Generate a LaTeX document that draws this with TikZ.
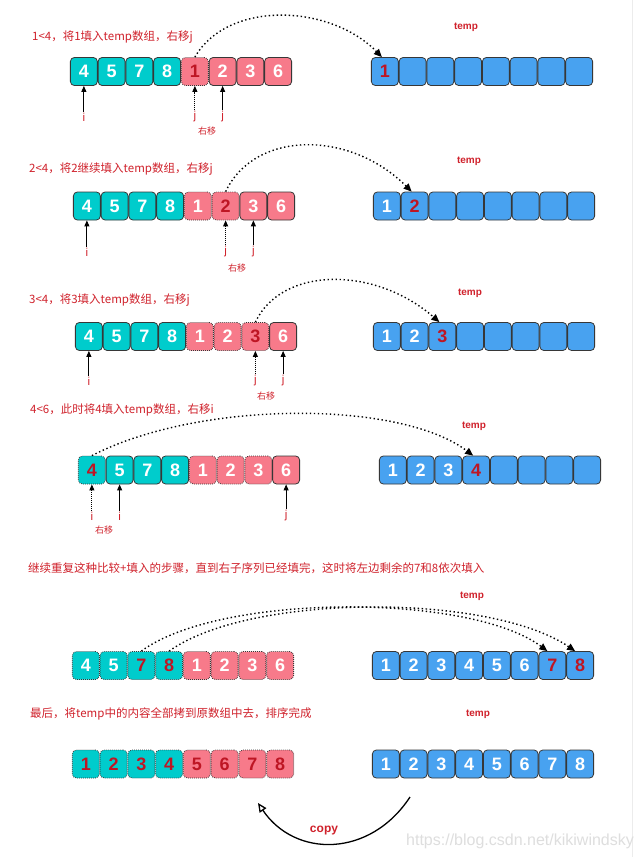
\documentclass[tikz,border=0pt]{standalone}
\usepackage{fontspec}
\setmainfont{Liberation Sans}
\newfontfamily\cjk{Noto Sans CJK SC}
\usetikzlibrary{arrows.meta}
\definecolor{tealc}{RGB}{0,204,204}
\definecolor{pinkc}{RGB}{247,122,138}
\definecolor{bluec}{RGB}{72,162,240}
\definecolor{edgec}{RGB}{55,55,55}
\definecolor{redc}{RGB}{208,34,44}
\definecolor{hlc}{RGB}{190,22,36}
\definecolor{wmc}{RGB}{222,222,222}
\newcommand\mycell[6]{\node[#1] (#2) at ({#3+13.875+27.75*#4},#5) {#6};}
\tikzset{
 cell/.style={draw=edgec, line width=0.8pt, rounded corners=4pt, minimum width=27pt, minimum height=28pt, inner sep=0pt, text=white, font=\fontsize{18}{18}\selectfont\bfseries},
 tc/.style={cell, fill=tealc},
 pc/.style={cell, fill=pinkc},
 bc/.style={cell, fill=bluec},
 dotb/.style={dash pattern=on 0.8pt off 1.2pt},
 hl/.style={text=hlc},
 title/.style={anchor=west, text=redc, font=\cjk\fontsize{11.5}{12}\selectfont, inner sep=0pt},
 templab/.style={text=redc, font=\fontsize{10}{10}\selectfont\bfseries, inner sep=0pt},
 ptrlab/.style={text=redc, font=\fontsize{11.5}{11.5}\selectfont, inner sep=1pt},
 movelab/.style={text=redc, font=\cjk\fontsize{9}{9}\selectfont, inner sep=0pt},
 ptr/.style={draw=black, line width=0.9pt, -{Triangle[length=6pt,width=5pt]}},
 ptrd/.style={ptr, dash pattern=on 1pt off 1pt},
 arcarrow/.style={line width=1.4pt, dash pattern=on 1.4pt off 2.6pt, -{Triangle[length=8pt,width=7pt]}},
 copyarrow/.style={line width=1.3pt, -{Triangle[open,length=9pt,width=8pt]}},
 copylab/.style={text=redc, font=\fontsize{12}{12}\selectfont\bfseries},
}
\begin{document}
\begin{tikzpicture}[x=1pt,y=-1pt]
\fill[white] (0,0) rectangle (642,857);
\useasboundingbox (0,0) rectangle (642,857);
\draw[gray!15, line width=0.6pt] (632,0) -- (632,857);

% ---------- Row 1 ----------
\node[title] (t1) at (32,37) {1<4，将1填入temp数组，右移j};
\mycell{tc}{r1a0}{70}{0}{71.5}{4}
\mycell{tc}{r1a1}{70}{1}{71.5}{5}
\mycell{tc}{r1a2}{70}{2}{71.5}{7}
\mycell{tc}{r1a3}{70}{3}{71.5}{8}
\mycell{pc,dotb,hl}{r1a4}{70}{4}{71.5}{1}
\mycell{pc}{r1a5}{70}{5}{71.5}{2}
\mycell{pc}{r1a6}{70}{6}{71.5}{3}
\mycell{pc}{r1a7}{70}{7}{71.5}{6}
\node[templab] (tl1) at (466,27) {temp};
\mycell{bc,hl}{r1t0}{371}{0}{71.5}{1}
\mycell{bc}{r1t1}{371}{1}{71.5}{}
\mycell{bc}{r1t2}{371}{2}{71.5}{}
\mycell{bc}{r1t3}{371}{3}{71.5}{}
\mycell{bc}{r1t4}{371}{4}{71.5}{}
\mycell{bc}{r1t5}{371}{5}{71.5}{}
\mycell{bc}{r1t6}{371}{6}{71.5}{}
\mycell{bc}{r1t7}{371}{7}{71.5}{}
\node[ptrlab] (r1i) at (r1a0 |- 0,117) {i};
\node[ptrlab] (r1j0) at (r1a4 |- 0,117) {j};
\node[ptrlab] (r1j1) at (r1a5 |- 0,117) {j};
\node[movelab] (r1m) at (207,131) {右移};
\draw[ptr] (r1i) -- (r1a0);
\draw[ptrd] (r1j0) -- (r1a4);
\draw[ptr] (r1j1) -- (r1a5);
\draw[arcarrow] (r1a4.north) .. controls (228,0) and (330,4) .. ([xshift=-3pt]r1t0.north);

% ---------- Row 2 ----------
\node[title] (t2) at (29,169) {2<4，将2继续填入temp数组，右移j};
\mycell{tc}{r2a0}{73}{0}{206}{4}
\mycell{tc}{r2a1}{73}{1}{206}{5}
\mycell{tc}{r2a2}{73}{2}{206}{7}
\mycell{tc}{r2a3}{73}{3}{206}{8}
\mycell{pc,dotb}{r2a4}{73}{4}{206}{1}
\mycell{pc,dotb,hl}{r2a5}{73}{5}{206}{2}
\mycell{pc}{r2a6}{73}{6}{206}{3}
\mycell{pc}{r2a7}{73}{7}{206}{6}
\node[templab] (tl2) at (469,161) {temp};
\mycell{bc}{r2t0}{373}{0}{206}{1}
\mycell{bc,hl}{r2t1}{373}{1}{206}{2}
\mycell{bc}{r2t2}{373}{2}{206}{}
\mycell{bc}{r2t3}{373}{3}{206}{}
\mycell{bc}{r2t4}{373}{4}{206}{}
\mycell{bc}{r2t5}{373}{5}{206}{}
\mycell{bc}{r2t6}{373}{6}{206}{}
\mycell{bc}{r2t7}{373}{7}{206}{}
\node[ptrlab] (r2i) at (r2a0 |- 0,252) {i};
\node[ptrlab] (r2j0) at (r2a5 |- 0,252) {j};
\node[ptrlab] (r2j1) at (r2a6 |- 0,252) {j};
\node[movelab] (r2m) at (237,268) {右移};
\draw[ptr] (r2i) -- (r2a0);
\draw[ptrd] (r2j0) -- (r2a5);
\draw[ptr] (r2j1) -- (r2a6);
\draw[arcarrow] (r2a5.north) .. controls (255,130) and (350,130) .. ([xshift=-3pt]r2t1.north);

% ---------- Row 3 ----------
\node[title] (t3) at (29,300) {3<4，将3填入temp数组，右移j};
\mycell{tc}{r3a0}{75}{0}{336.5}{4}
\mycell{tc}{r3a1}{75}{1}{336.5}{5}
\mycell{tc}{r3a2}{75}{2}{336.5}{7}
\mycell{tc}{r3a3}{75}{3}{336.5}{8}
\mycell{pc,dotb}{r3a4}{75}{4}{336.5}{1}
\mycell{pc,dotb}{r3a5}{75}{5}{336.5}{2}
\mycell{pc,dotb,hl}{r3a6}{75}{6}{336.5}{3}
\mycell{pc}{r3a7}{75}{7}{336.5}{6}
\node[templab] (tl3) at (470,293) {temp};
\mycell{bc}{r3t0}{373}{0}{336.5}{1}
\mycell{bc}{r3t1}{373}{1}{336.5}{2}
\mycell{bc,hl}{r3t2}{373}{2}{336.5}{3}
\mycell{bc}{r3t3}{373}{3}{336.5}{}
\mycell{bc}{r3t4}{373}{4}{336.5}{}
\mycell{bc}{r3t5}{373}{5}{336.5}{}
\mycell{bc}{r3t6}{373}{6}{336.5}{}
\mycell{bc}{r3t7}{373}{7}{336.5}{}
\node[ptrlab] (r3i) at (r3a0 |- 0,381) {i};
\node[ptrlab] (r3j0) at (r3a6 |- 0,381) {j};
\node[ptrlab] (r3j1) at (r3a7 |- 0,381) {j};
\node[movelab] (r3m) at (266,396) {右移};
\draw[ptr] (r3i) -- (r3a0);
\draw[ptrd] (r3j0) -- (r3a6);
\draw[ptr] (r3j1) -- (r3a7);
\draw[arcarrow] (r3a6.north) .. controls (282,266) and (375,266) .. ([xshift=-3pt]r3t2.north);

% ---------- Row 4 ----------
\node[title] (t4) at (30,410) {4<6，此时将4填入temp数组，右移i};
\mycell{tc,dotb,hl}{r4a0}{78}{0}{470}{4}
\mycell{tc}{r4a1}{78}{1}{470}{5}
\mycell{tc}{r4a2}{78}{2}{470}{7}
\mycell{tc}{r4a3}{78}{3}{470}{8}
\mycell{pc,dotb}{r4a4}{78}{4}{470}{1}
\mycell{pc,dotb}{r4a5}{78}{5}{470}{2}
\mycell{pc,dotb}{r4a6}{78}{6}{470}{3}
\mycell{pc}{r4a7}{78}{7}{470}{6}
\node[templab] (tl4) at (474,426) {temp};
\mycell{bc}{r4t0}{379}{0}{470}{1}
\mycell{bc}{r4t1}{379}{1}{470}{2}
\mycell{bc}{r4t2}{379}{2}{470}{3}
\mycell{bc,hl}{r4t3}{379}{3}{470}{4}
\mycell{bc}{r4t4}{379}{4}{470}{}
\mycell{bc}{r4t5}{379}{5}{470}{}
\mycell{bc}{r4t6}{379}{6}{470}{}
\mycell{bc}{r4t7}{379}{7}{470}{}
\node[ptrlab] (r4i0) at (r4a0 |- 0,516) {i};
\node[ptrlab] (r4i1) at (r4a1 |- 0,516) {i};
\node[ptrlab] (r4j) at (r4a7 |- 0,516) {j};
\node[movelab] (r4m) at (104,530) {右移};
\draw[ptrd] (r4i0) -- (r4a0);
\draw[ptr] (r4i1) -- (r4a1);
\draw[ptr] (r4j) -- (r4a7);
\draw[arcarrow] (r4a0.north) .. controls (200,400) and (400,400) .. ([xshift=-3pt]r4t3.north);

% ---------- Row 5 ----------
\node[title] (t5) at (28,568) {继续重复这种比较+填入的步骤，直到右子序列已经填完，这时将左边剩余的7和8依次填入};
\mycell{tc,dotb}{r5a0}{72}{0}{665.5}{4}
\mycell{tc,dotb}{r5a1}{72}{1}{665.5}{5}
\mycell{tc,dotb,hl}{r5a2}{72}{2}{665.5}{7}
\mycell{tc,dotb,hl}{r5a3}{72}{3}{665.5}{8}
\mycell{pc,dotb}{r5a4}{72}{4}{665.5}{1}
\mycell{pc,dotb}{r5a5}{72}{5}{665.5}{2}
\mycell{pc,dotb}{r5a6}{72}{6}{665.5}{3}
\mycell{pc,dotb}{r5a7}{72}{7}{665.5}{6}
\node[templab] (tl5) at (472,596) {temp};
\mycell{bc}{r5t0}{372}{0}{665.5}{1}
\mycell{bc}{r5t1}{372}{1}{665.5}{2}
\mycell{bc}{r5t2}{372}{2}{665.5}{3}
\mycell{bc}{r5t3}{372}{3}{665.5}{4}
\mycell{bc}{r5t4}{372}{4}{665.5}{5}
\mycell{bc}{r5t5}{372}{5}{665.5}{6}
\mycell{bc,hl}{r5t6}{372}{6}{665.5}{7}
\mycell{bc,hl}{r5t7}{372}{7}{665.5}{8}
\draw[arcarrow] (r5a2.north) .. controls (220,593) and (470,593) .. ([xshift=-5pt]r5t6.north);
\draw[arcarrow] (r5a3.north) .. controls (250,593) and (490,593) .. ([xshift=-5pt]r5t7.north);

% ---------- Row 6 ----------
\node[title] (t6) at (30,714) {最后，将temp中的内容全部拷到原数组中去，排序完成};
\mycell{tc,dotb,hl}{r6a0}{72}{0}{764}{1}
\mycell{tc,dotb,hl}{r6a1}{72}{1}{764}{2}
\mycell{tc,dotb,hl}{r6a2}{72}{2}{764}{3}
\mycell{tc,dotb,hl}{r6a3}{72}{3}{764}{4}
\mycell{pc,dotb,hl}{r6a4}{72}{4}{764}{5}
\mycell{pc,dotb,hl}{r6a5}{72}{5}{764}{6}
\mycell{pc,dotb,hl}{r6a6}{72}{6}{764}{7}
\mycell{pc,dotb,hl}{r6a7}{72}{7}{764}{8}
\node[templab] (tl6) at (478,714) {temp};
\mycell{bc}{r6t0}{372}{0}{764}{1}
\mycell{bc}{r6t1}{372}{1}{764}{2}
\mycell{bc}{r6t2}{372}{2}{764}{3}
\mycell{bc}{r6t3}{372}{3}{764}{4}
\mycell{bc}{r6t4}{372}{4}{764}{5}
\mycell{bc}{r6t5}{372}{5}{764}{6}
\mycell{bc}{r6t6}{372}{6}{764}{7}
\mycell{bc}{r6t7}{372}{7}{764}{8}
\coordinate (cs) at (410,797);
\coordinate (ce) at (258,803);
\draw[copyarrow] (cs) .. controls (370,858) and (295,858) .. (ce);
\node[copylab] (cp) at (324,830) {copy};
\node[anchor=west, text=wmc, font=\fontsize{16}{16}\selectfont, inner sep=0pt] (wm) at (406,841) {https://blog.csdn.net/kikiwindsky};
\end{tikzpicture}
\end{document}
